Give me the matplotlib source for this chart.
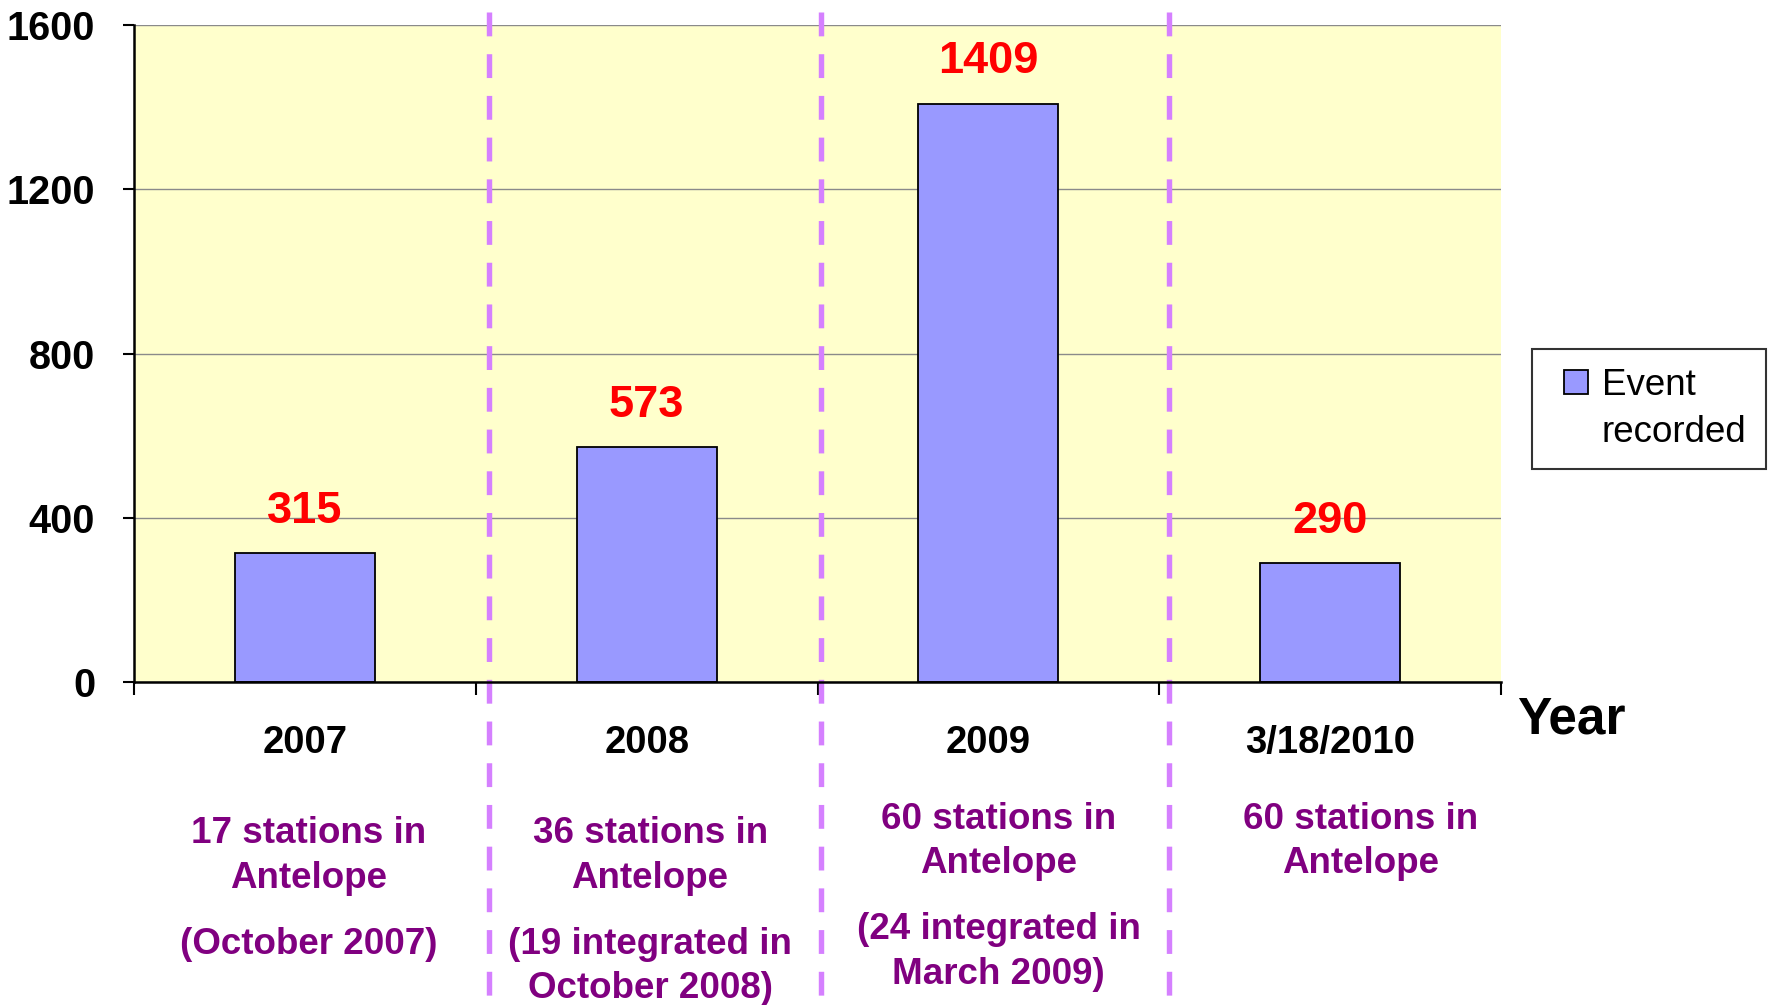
import matplotlib
matplotlib.use("Agg")
import matplotlib.pyplot as plt
from matplotlib.patches import Rectangle
from matplotlib.legend_handler import HandlerPatch

# ─────────────────────────────────────────────
# DATA
# ─────────────────────────────────────────────
years         = ["2007", "2008", "2009", "3/18/2010"]
events        = [315, 573, 1409, 290]
station_notes = ["17 stations in\nAntelope", "36 stations in\nAntelope",
                 "60 stations in\nAntelope", "60 stations in\nAntelope"]
integ_notes   = ["(October 2007)", "(19 integrated in\nOctober 2008)",
                 "(24 integrated in\nMarch 2009)", ""]
y_ticks       = [0, 400, 800, 1200, 1600]

# ─────────────────────────────────────────────
# STYLE
# ─────────────────────────────────────────────
FONT       = ["Liberation Sans", "DejaVu Sans"]
BAR_COLOR  = "#9999FF"
BG_COLOR   = "#FFFFCC"
DASH_COLOR = "#D580FF"
NOTE_COLOR = "#800080"
plt.rcParams["font.family"] = FONT


def square_right(legend, orig_handle, xdescent, ydescent, width, height, fontsize):
    # square swatch pushed to the right end of the handle box
    return Rectangle((-xdescent + width - height, -ydescent), height, height)


fig = plt.figure(figsize=(17.83, 10.05), dpi=100)
ax = fig.add_axes([0.0752, 0.3214, 0.7666, 0.6536])
ax.set_facecolor(BG_COLOR)

x = list(range(len(years)))
bars = ax.bar(x, events, width=0.41, color=BAR_COLOR, edgecolor="black",
              linewidth=1.3, zorder=3)

# value labels
for xi, v in zip(x, events):
    ax.annotate(str(v), (xi, v), xytext=(0, 30), textcoords="offset points",
                ha="center", va="center", color="red", fontsize=32.5,
                fontweight="bold")

# axes / ticks
ax.set_xlim(-0.5, len(years) - 0.5)
ax.set_ylim(0, 1600)
ax.set_yticks(y_ticks)
ax.set_yticklabels([str(t) for t in y_ticks], fontsize=28.5, fontweight="bold")
ax.set_xticks(x)
ax.set_xticklabels(years, fontsize=27.5, fontweight="bold")
ax.set_xticks([i - 0.5 for i in range(len(years) + 1)], minor=True)
ax.tick_params(axis="x", which="major", length=0, pad=31)
ax.tick_params(axis="x", which="minor", length=9, width=1.5, direction="out")
ax.tick_params(axis="y", length=8, width=1.5, pad=20)
ax.grid(axis="y", color="#8a8a8a", linewidth=1, zorder=1)
for s in ["top", "right"]:
    ax.spines[s].set_visible(False)
for s in ["left", "bottom"]:
    ax.spines[s].set_linewidth(1.8)
    ax.spines[s].set_zorder(4)

# dashed separators running through the note area
for sx in [0.538, 1.51, 2.528]:
    ax.plot([sx, sx], [1.02, -0.50], transform=ax.get_xaxis_transform(),
            color=DASH_COLOR, linewidth=3.9, linestyle=(0, (4.4, 3.3)),
            clip_on=False, zorder=2)

# notes under the year labels
note_shift = [0.01, 0.01, 0.03, 0.09]
note_top   = [-0.2046, -0.2046, -0.182, -0.182]
integ_top  = [-0.3725, -0.3725, -0.350, -0.350]
for xi, sn, inn, dx, ys, yi in zip(x, station_notes, integ_notes,
                                   note_shift, note_top, integ_top):
    ax.text(xi + dx, ys, sn, transform=ax.get_xaxis_transform(),
            ha="center", va="top", fontsize=26.5, fontweight="bold",
            color=NOTE_COLOR, linespacing=1.36)
    if inn:
        ax.text(xi + dx, yi, inn, transform=ax.get_xaxis_transform(),
                ha="center", va="top", fontsize=26.5, fontweight="bold",
                color=NOTE_COLOR, linespacing=1.36)

fig.text(0.851, 0.2836, "Year", fontsize=37, fontweight="bold",
         ha="left", va="center")

# legend: swatch sits beside the first line of the two-line label
swatch = bars.patches[0]
blank = Rectangle((0, 0), 1, 1, alpha=0)
leg = fig.legend(handles=[swatch, blank], labels=["Event", "recorded"],
                 handler_map={swatch: HandlerPatch(patch_func=square_right)},
                 loc="upper left", bbox_to_anchor=(0.859, 0.6527),
                 borderaxespad=0, fontsize=26.5, frameon=True, fancybox=False,
                 handlelength=1.02, handleheight=0.62, handletextpad=0.37,
                 borderpad=0.52, labelspacing=0.33)
leg.get_frame().set_edgecolor("black")
leg.get_frame().set_linewidth(1.5)

fig.savefig("out.png", dpi=100)
